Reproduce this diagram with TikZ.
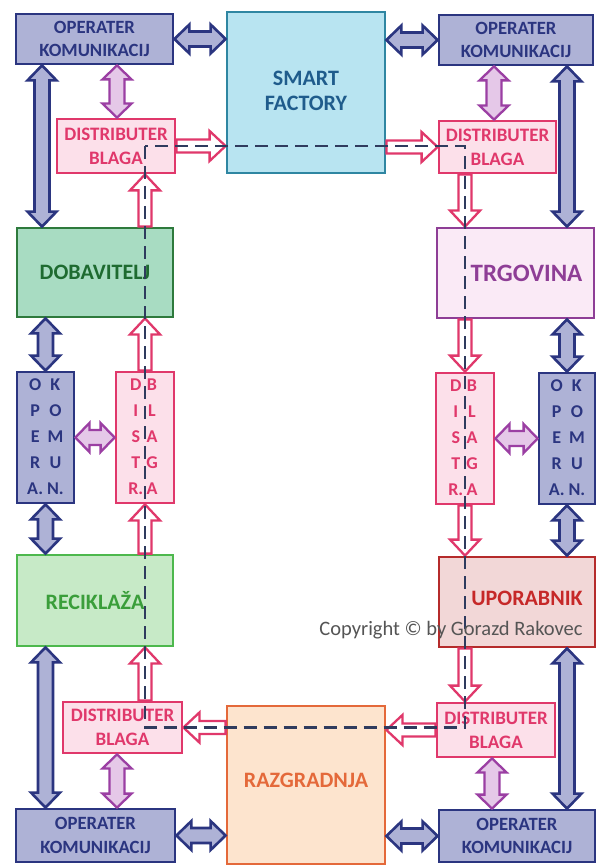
\documentclass[tikz,border=0pt]{standalone}
\usepackage{fontspec}
\setmainfont{Carlito}
\usetikzlibrary{calc}
\definecolor{cNavy}{HTML}{2B3580}
\definecolor{cNavyFill}{HTML}{AEB2D6}
\definecolor{cSmartFill}{HTML}{B8E4F1}
\definecolor{cSmartDraw}{HTML}{2F86A2}
\definecolor{cSmartText}{HTML}{1F5C8C}
\definecolor{cPink}{HTML}{E0386B}
\definecolor{cPinkFill}{HTML}{FCE0EA}
\definecolor{cPurp}{HTML}{9B3FA3}
\definecolor{cPurpFill}{HTML}{E5C8E8}
\definecolor{cDobFill}{HTML}{A8DCC2}
\definecolor{cDobDraw}{HTML}{2E7A3C}
\definecolor{cDobText}{HTML}{1E6B30}
\definecolor{cRecFill}{HTML}{C7EAC7}
\definecolor{cRecDraw}{HTML}{4DB84D}
\definecolor{cRecText}{HTML}{3A9E3A}
\definecolor{cTrgFill}{HTML}{FAEAF6}
\definecolor{cTrgDraw}{HTML}{8E3E96}
\definecolor{cUpoFill}{HTML}{F2D7D7}
\definecolor{cUpoDraw}{HTML}{B52B2B}
\definecolor{cUpoText}{HTML}{C62828}
\definecolor{cRazFill}{HTML}{FDE4CE}
\definecolor{cRazDraw}{HTML}{E4693A}
\definecolor{cDash}{HTML}{2F3B5E}
\definecolor{cCopy}{HTML}{555555}

% double block arrow: #1 style, #2 shaft half width, #3 head half width, #4 head length, #5 from, #6 to
\newcommand\fatdouble[6]{%
 \path[#1] let \p1=(#5), \p2=(#6), \n3={veclen(\x2-\x1,\y2-\y1)},
   \n1={(\x2-\x1)/\n3}, \n2={(\y2-\y1)/\n3} in
  ({\x1},{\y1})
  -- ({\x1+#4*(\n1)+#3*(\n2)},{\y1+#4*(\n2)-#3*(\n1)})
  -- ({\x1+#4*(\n1)+#2*(\n2)},{\y1+#4*(\n2)-#2*(\n1)})
  -- ({\x2-#4*(\n1)+#2*(\n2)},{\y2-#4*(\n2)-#2*(\n1)})
  -- ({\x2-#4*(\n1)+#3*(\n2)},{\y2-#4*(\n2)-#3*(\n1)})
  -- ({\x2},{\y2})
  -- ({\x2-#4*(\n1)-#3*(\n2)},{\y2-#4*(\n2)+#3*(\n1)})
  -- ({\x2-#4*(\n1)-#2*(\n2)},{\y2-#4*(\n2)+#2*(\n1)})
  -- ({\x1+#4*(\n1)-#2*(\n2)},{\y1+#4*(\n2)+#2*(\n1)})
  -- ({\x1+#4*(\n1)-#3*(\n2)},{\y1+#4*(\n2)+#3*(\n1)})
  -- cycle;}
% single block arrow
\newcommand\fatsingle[6]{%
 \path[#1] let \p1=(#5), \p2=(#6), \n3={veclen(\x2-\x1,\y2-\y1)},
   \n1={(\x2-\x1)/\n3}, \n2={(\y2-\y1)/\n3} in
  ({\x1+#2*(\n2)},{\y1-#2*(\n1)})
  -- ({\x2-#4*(\n1)+#2*(\n2)},{\y2-#4*(\n2)-#2*(\n1)})
  -- ({\x2-#4*(\n1)+#3*(\n2)},{\y2-#4*(\n2)-#3*(\n1)})
  -- ({\x2},{\y2})
  -- ({\x2-#4*(\n1)-#3*(\n2)},{\y2-#4*(\n2)+#3*(\n1)})
  -- ({\x2-#4*(\n1)-#2*(\n2)},{\y2-#4*(\n2)+#2*(\n1)})
  -- ({\x1-#2*(\n2)},{\y1+#2*(\n1)})
  -- cycle;}
\newcommand\navyarrow[2]{\fatdouble{navyarr}{7.5pt}{14.5pt}{15pt}{#1}{#2}}
\newcommand\purparrow[2]{\fatdouble{purparr}{7.5pt}{14.5pt}{14pt}{#1}{#2}}
\newcommand\pinkarrow[2]{\fatsingle{pinkarr}{6.5pt}{15pt}{16pt}{#1}{#2}}

\tikzset{
 box/.style={draw, line width=2.8pt, inner sep=0pt, align=center},
 opbox/.style={box, draw=cNavy, fill=cNavyFill, text=cNavy,
   font=\bfseries\fontsize{18.7}{23.5}\selectfont},
 distbox/.style={box, draw=cPink, fill=cPinkFill, text=cPink,
   font=\bfseries\fontsize{19}{24}\selectfont},
 vertop/.style={box, draw=cNavy, fill=cNavyFill, text=cNavy,
   minimum width=57pt, minimum height=131pt,
   font=\bfseries\fontsize{18}{26}\selectfont},
 vertdist/.style={box, draw=cPink, fill=cPinkFill, text=cPink,
   minimum width=58pt, minimum height=131pt,
   font=\bfseries\fontsize{18}{26}\selectfont},
 bigbox/.style={box, minimum width=157pt, minimum height=90pt,
   font=\bfseries\fontsize{22}{27}\selectfont},
 lbl/.style={inner sep=0pt, font=\bfseries\fontsize{22}{27}\selectfont},
 navyarr/.style={draw=cNavy, fill=cNavyFill, line width=2.6pt, line join=miter},
 purparr/.style={draw=cPurp, fill=cPurpFill, line width=2.3pt, line join=miter},
 pinkarr/.style={draw=cPink, fill=white, line width=2.3pt, line join=miter},
 dashline/.style={draw=cDash, line width=2.5pt, dash pattern=on 13pt off 7pt},
}

\begin{document}
\begin{tikzpicture}[x=1pt, y=-1pt]
\useasboundingbox[fill=white] (0,0) rectangle (597,866);

% top row
\node[opbox, minimum width=157pt, minimum height=50pt] (opTL) at (94.5,39) {OPERATER\\KOMUNIKACIJ};
\node[box, draw=cSmartDraw, fill=cSmartFill, text=cSmartText,
  minimum width=158pt, minimum height=161pt,
  label={[lbl, text=cSmartText, align=center, yshift=2pt, font=\bfseries\fontsize{22}{25}\selectfont]center:SMART\\FACTORY}] (smart) at (306,92.5) {};
\node[opbox, minimum width=154pt, minimum height=50pt] (opTR) at (516,40) {OPERATER\\KOMUNIKACIJ};
\node[distbox, minimum width=118pt, minimum height=54pt] (diTL) at (116,146) {DISTRIBUTER\\BLAGA};
\node[distbox, minimum width=117pt, minimum height=52pt] (diTR) at (497.5,147) {DISTRIBUTER\\BLAGA};

% second row
\node[bigbox, minimum width=156pt, minimum height=89pt, draw=cDobDraw, fill=cDobFill, text=cDobText] (dob) at (95,272.5) {DOBAVITELJ};
\node[bigbox, draw=cTrgDraw, fill=cTrgFill,
  label={[lbl, text=cTrgDraw, xshift=11pt, font=\bfseries\fontsize{25}{28}\selectfont]center:TRGOVINA}] (trg) at (515.5,273) {};

% middle row
\node[vertop] (okL) at (45.5,437.5) {\begin{tabular}{@{}c@{\hspace{4pt}}c@{}}O&K\\P&O\\E&M\\R&U\\A.&N.\end{tabular}};
\node[vertdist, label={[inner sep=0pt, xshift=-2pt, text=cPink, font=\bfseries\fontsize{18}{26}\selectfont]center:\begin{tabular}{@{}c@{\hspace{3pt}}c@{}}D&B\\I&L\\S&A\\T&G\\R.&A\end{tabular}}] (dvL) at (145,437.5) {};
\node[vertdist, label={[inner sep=0pt, xshift=-2pt, text=cPink, font=\bfseries\fontsize{18}{26}\selectfont]center:\begin{tabular}{@{}c@{\hspace{3pt}}c@{}}D&B\\I&L\\S&A\\T&G\\R.&A\end{tabular}}] (dvR) at (465,438.5) {};
\node[vertop, minimum width=56pt] (okR) at (567,438.5) {\begin{tabular}{@{}c@{\hspace{4pt}}c@{}}O&K\\P&O\\E&M\\R&U\\A.&N.\end{tabular}};

% fourth row
\node[bigbox, minimum width=156pt, minimum height=91pt, draw=cRecDraw, fill=cRecFill, text=cRecText] (rec) at (95,600.5) {RECIKLAŽA};
\node[bigbox, minimum width=156pt, draw=cUpoDraw, fill=cUpoFill,
  label={[lbl, text=cUpoText, xshift=10pt, yshift=4pt]center:UPORABNIK}] (upo) at (517,602) {};

% bottom row
\node[distbox, minimum width=119pt, minimum height=51pt] (diBL) at (122.5,727.5) {DISTRIBUTER\\BLAGA};
\node[distbox, minimum width=118pt, minimum height=54pt] (diBR) at (496,730) {DISTRIBUTER\\BLAGA};
\node[box, draw=cRazDraw, fill=cRazFill,
  minimum width=158pt, minimum height=158pt,
  label={[lbl, text=cRazDraw, yshift=5pt]center:RAZGRADNJA}] (razg) at (306,785) {};
\node[opbox, minimum width=159pt, minimum height=53pt] (opBL) at (95.5,835.5) {OPERATER\\KOMUNIKACIJ};
\node[opbox, minimum width=156pt, minimum height=52pt] (opBR) at (517,836) {OPERATER\\KOMUNIKACIJ};

% navy double arrows
\navyarrow{opTL.east}{smart.west |- opTL.east}
\navyarrow{smart.east |- opTR.west}{opTR.west}
\navyarrow{opTL.south -| 42,0}{dob.north -| 42,0}
\navyarrow{opTR.south -| okR.center}{trg.north -| okR.center}
\navyarrow{dob.south -| okL.center}{okL.north}
\navyarrow{okL.south}{rec.north -| okL.center}
\navyarrow{rec.south -| okL.center}{opBL.north -| okL.center}
\navyarrow{trg.south -| okR.center}{okR.north}
\navyarrow{okR.south}{upo.north -| okR.center}
\navyarrow{upo.south -| okR.center}{opBR.north -| okR.center}
\navyarrow{opBL.east}{razg.west |- opBL.east}
\navyarrow{razg.east |- opBR.west}{opBR.west}

% purple double arrows
\purparrow{opTL.south -| 117,0}{diTL.north -| 117,0}
\purparrow{opTR.south -| 494,0}{diTR.north -| 494,0}
\purparrow{okL.east}{dvL.west}
\purparrow{dvR.east}{okR.west}
\purparrow{diBL.south -| 117,0}{opBL.north -| 117,0}
\purparrow{diBR.south -| 492,0}{opBR.north -| 492,0}

% pink flow arrows
\pinkarrow{diTL.east}{smart.west |- diTL.east}
\pinkarrow{smart.east |- diTR.west}{diTR.west}
\pinkarrow{dob.north -| dvL.center}{diTL.south -| dvL.center}
\pinkarrow{diTR.south -| dvR.center}{trg.north -| dvR.center}
\pinkarrow{dvL.north}{dob.south -| dvL.center}
\pinkarrow{trg.south -| dvR.center}{dvR.north}
\pinkarrow{rec.north -| dvL.center}{dvL.south}
\pinkarrow{dvR.south}{upo.north -| dvR.center}
\pinkarrow{diBL.north -| dvL.center}{rec.south -| dvL.center}
\pinkarrow{upo.south -| dvR.center}{diBR.north -| dvR.center}
\pinkarrow{razg.west |- diBL.east}{diBL.east}
\pinkarrow{diBR.west}{razg.east |- diBR.west}

% dashed loop
\draw[dashline] (dvL.center |- diTL.center) rectangle (dvR.center |- diBL.center);

% copyright
\node[text=cCopy, font=\fontsize{20.5}{24}\selectfont] (copy) at (451,630) {Copyright © by Gorazd Rakovec};
\end{tikzpicture}
\end{document}
